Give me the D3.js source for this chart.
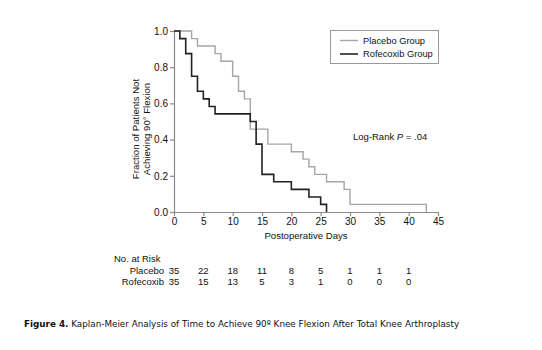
<!DOCTYPE html>
<html>
<head>
<meta charset="utf-8">
<script src="https://cdn.jsdelivr.net/npm/d3@7"></script>
<style>
  body { margin: 0; background: #fff; }
  svg { display: block; }
</style>
</head>
<body>
<svg id="chart" width="542" height="350"></svg>
<script>
// ---- data ----
const placeboTimes = [0, 3, 4, 7, 8, 10, 11, 12, 13, 16, 20, 22, 23, 24, 26, 29, 30, 43];
const placeboSurv  = [1.0, 0.958, 0.917, 0.875, 0.833, 0.75, 0.667, 0.625, 0.458, 0.375, 0.333, 0.292, 0.25, 0.208, 0.167, 0.125, 0.042, 0];
const rofecoxibTimes = [0, 1, 2, 3, 4, 5, 6, 7, 13, 14, 15, 17, 20, 23, 25, 26];
const rofecoxibSurv  = [1.0, 0.958, 0.875, 0.75, 0.667, 0.625, 0.583, 0.542, 0.5, 0.375, 0.208, 0.167, 0.125, 0.083, 0.042, 0];
const xTicks = [0, 5, 10, 15, 20, 25, 30, 35, 40, 45];
const yTicks = [0, 0.2, 0.4, 0.6, 0.8, 1.0];
const riskDays = [0, 5, 10, 15, 20, 25, 30, 35, 40];
const riskPlacebo = [35, 22, 18, 11, 8, 5, 1, 1, 1];
const riskRofecoxib = [35, 15, 13, 5, 3, 1, 0, 0, 0];
const seriesNames = ["Placebo Group", "Rofecoxib Group"];
const riskLabels = ["Placebo", "Rofecoxib"];

const svg = d3.select("#chart");
const FONT = "'Liberation Sans', Arial, Helvetica, sans-serif";
const axisColor = "#8a8a8a";
const placeboColor = "#a6a6a6";
const rofeColor = "#222";

const x = d3.scaleLinear().domain([0, 45]).range([174, 438]);
const y = d3.scaleLinear().domain([0, 1]).range([212, 31]);

// axes
const xAxis = svg.append("g").attr("transform", `translate(0,${y(0)})`)
  .call(d3.axisBottom(x).tickValues(xTicks).tickSize(4).tickPadding(2).tickSizeOuter(0));
const yAxis = svg.append("g").attr("transform", `translate(${x(0)},0)`)
  .call(d3.axisLeft(y).tickValues(yTicks).tickFormat(d3.format(".1f")).tickSize(4).tickPadding(2).tickSizeOuter(0));
[xAxis, yAxis].forEach(g => {
  g.select(".domain").attr("stroke", axisColor).attr("stroke-width", 1.2);
  g.selectAll(".tick line").attr("stroke", axisColor).attr("stroke-width", 1.2);
  g.selectAll(".tick text").attr("fill", "#111").style("font-family", FONT).style("font-size", "10px");
});

// axis titles
svg.append("text").attr("x", 306).attr("y", 239).attr("text-anchor", "middle")
  .style("font-family", FONT).style("font-size", "9.6px").attr("fill", "#111")
  .text("Postoperative Days");
const yl = svg.append("text").attr("transform", "translate(141,129) rotate(-90)")
  .attr("text-anchor", "middle").style("font-family", FONT).style("font-size", "9.6px").attr("fill", "#111");
yl.append("tspan").attr("x", 0).attr("dy", "-0.25em").text("Fraction of Patients Not");
yl.append("tspan").attr("x", 0).attr("dy", "1.2em").text("Achieving 90° Flexion");

// curves
const line = d3.line().x(d => x(d[0])).y(d => y(d[1])).curve(d3.curveStepAfter);
const pData = placeboTimes.map((t, i) => [t, placeboSurv[i]]);
const rData = rofecoxibTimes.map((t, i) => [t, rofecoxibSurv[i]]);
svg.append("path").datum(pData).attr("d", line).attr("fill", "none")
  .attr("stroke", placeboColor).attr("stroke-width", 1.4);
svg.append("path").datum(rData).attr("d", line).attr("fill", "none")
  .attr("stroke", rofeColor).attr("stroke-width", 1.6);

// legend
const lg = svg.append("g");
lg.append("rect").attr("x", 330.5).attr("y", 30.5).attr("width", 108).attr("height", 33)
  .attr("fill", "#fff").attr("stroke", "#999").attr("stroke-width", 1);
[placeboColor, rofeColor].forEach((c, i) => {
  const yy = 40.5 + i * 13.5;
  lg.append("line").attr("x1", 340).attr("x2", 358).attr("y1", yy).attr("y2", yy)
    .attr("stroke", c).attr("stroke-width", i ? 1.6 : 1.4);
  lg.append("text").attr("x", 363).attr("y", yy + 3.3).style("font-family", FONT)
    .style("font-size", "9.3px").attr("fill", "#111").text(seriesNames[i]);
});

// log-rank
const lr = svg.append("text").attr("x", 353).attr("y", 140).style("font-family", FONT)
  .style("font-size", "9.5px").attr("fill", "#111");
lr.append("tspan").text("Log-Rank ");
lr.append("tspan").style("font-style", "italic").text("P");
lr.append("tspan").text(" = .04");

// numbers at risk
svg.append("text").attr("x", 114).attr("y", 262).style("font-family", FONT)
  .style("font-size", "9.5px").attr("fill", "#111").text("No. at Risk");
[riskPlacebo, riskRofecoxib].forEach((row, r) => {
  const yy = 273.5 + r * 11;
  svg.append("text").attr("x", 164).attr("y", yy).attr("text-anchor", "end")
    .style("font-family", FONT).style("font-size", "9.5px").attr("fill", "#111").text(riskLabels[r]);
  svg.selectAll(null).data(row).enter().append("text")
    .attr("x", (d, i) => x(riskDays[i])).attr("y", yy).attr("text-anchor", "middle")
    .style("font-family", FONT).style("font-size", "9.5px").attr("fill", "#111").text(d => d);
});

// caption
const cap = svg.append("text").attr("x", 24).attr("y", 327)
  .style("font-family", "'DejaVu Sans', Verdana, sans-serif").style("font-size", "8.8px").attr("fill", "#111");
cap.append("tspan").style("font-weight", "bold").text("Figure 4.");
cap.append("tspan").text(" Kaplan-Meier Analysis of Time to Achieve 90º Knee Flexion After Total Knee Arthroplasty");
</script>
</body>
</html>
